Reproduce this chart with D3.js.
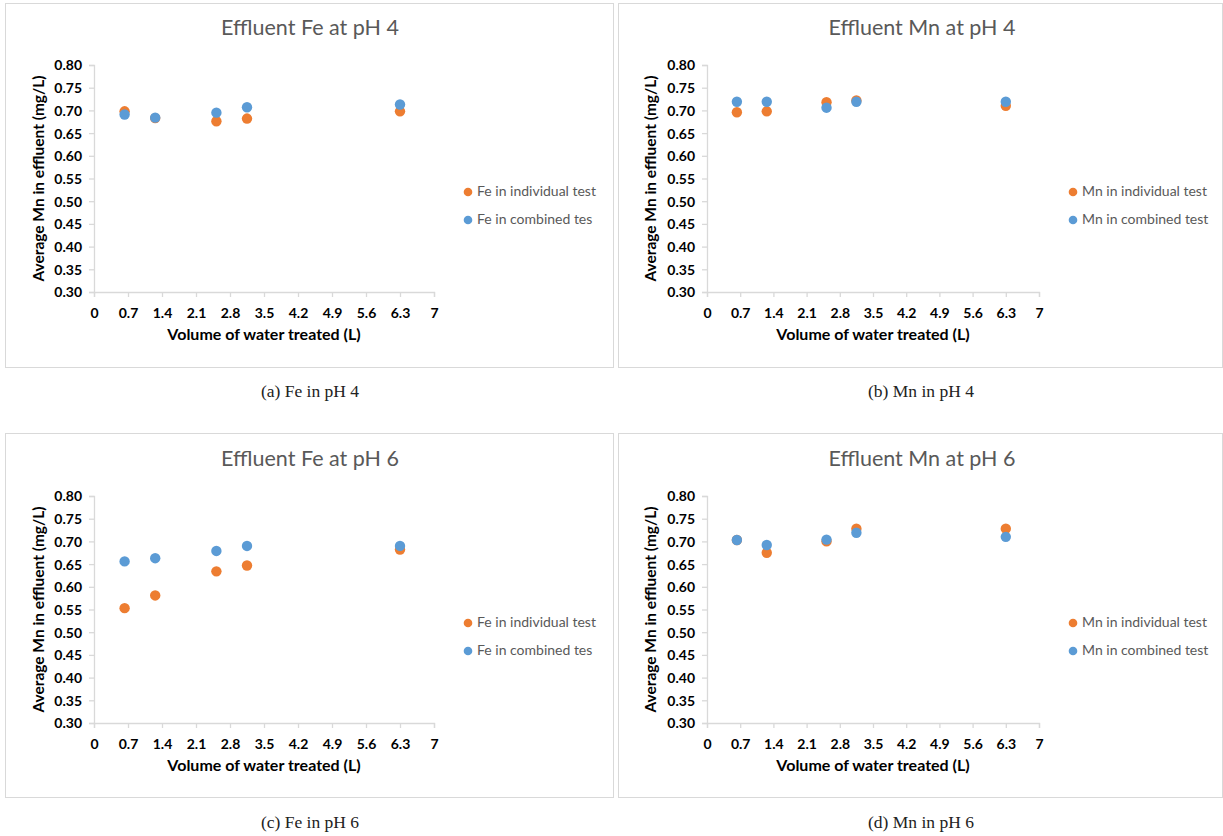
<!DOCTYPE html>
<html>
<head>
<meta charset="utf-8">
<script src="https://cdn.jsdelivr.net/npm/d3@7"></script>
<style>
  html, body { margin: 0; padding: 0; background: #ffffff; }
  svg { display: block; }
</style>
</head>
<body>
<svg id="chart" width="1223" height="836"></svg>
<script>
// Volume of water treated (L) at each sampling point
const volumes = [0.63, 1.26, 2.52, 3.15, 6.3];

// Effluent concentrations (mg/L)
const feIndividualPH4 = [0.698, 0.683, 0.676, 0.682, 0.698];
const feCombinedPH4   = [0.691, 0.684, 0.695, 0.707, 0.713];
const mnIndividualPH4 = [0.696, 0.698, 0.718, 0.722, 0.710];
const mnCombinedPH4   = [0.719, 0.719, 0.706, 0.719, 0.719];
const feIndividualPH6 = [0.553, 0.581, 0.634, 0.647, 0.682];
const feCombinedPH6   = [0.656, 0.663, 0.679, 0.690, 0.690];
const mnIndividualPH6 = [0.703, 0.675, 0.700, 0.728, 0.728];
const mnCombinedPH6   = [0.703, 0.692, 0.704, 0.719, 0.710];

// Axis ticks
const xTicks = [0, 0.7, 1.4, 2.1, 2.8, 3.5, 4.2, 4.9, 5.6, 6.3, 7];
const yTicks = [0.30, 0.35, 0.40, 0.45, 0.50, 0.55, 0.60, 0.65, 0.70, 0.75, 0.80];

// Panel titles, legend labels and captions
const titles = ["Effluent Fe at pH 4", "Effluent Mn at pH 4", "Effluent Fe at pH 6", "Effluent Mn at pH 6"];
const individualLabels = ["Fe in individual test", "Mn in individual test", "Fe in individual test", "Mn in individual test"];
const combinedLabels = ["Fe in combined tes", "Mn in combined test", "Fe in combined tes", "Mn in combined test"];
const captions = ["(a) Fe in pH 4", "(b) Mn in pH 4", "(c) Fe in pH 6", "(d) Mn in pH 6"];
const yAxisTitle = "Average Mn in effluent (mg/L)";
const xAxisTitle = "Volume of water treated (L)";

const individualSeries = [feIndividualPH4, mnIndividualPH4, feIndividualPH6, mnIndividualPH6];
const combinedSeries = [feCombinedPH4, mnCombinedPH4, feCombinedPH6, mnCombinedPH6];

const ORANGE = "#ED7D31";
const BLUE = "#5B9BD5";
const GRID = "#D9D9D9";
const TEXT_GREY = "#595959";
const SANS = "Lato, 'Open Sans', sans-serif";
const SERIF = "'Liberation Serif', 'DejaVu Serif', serif";

// Layout of the four panels
const panels = [
  { box: [5, 3, 613, 367],   plot: [94, 434, 65, 292],   titleX: 310, titleY: 30,  legendX: 468,  legendY: 192, yLabelX: 40,  xLabelY: 336, captionX: 310, captionY: 392 },
  { box: [618, 3, 1222, 367], plot: [707, 1039, 65, 292], titleX: 922, titleY: 30,  legendX: 1073, legendY: 192, yLabelX: 652, xLabelY: 336, captionX: 921, captionY: 392 },
  { box: [5, 433, 613, 797], plot: [94, 434, 496, 723],  titleX: 310, titleY: 461, legendX: 468,  legendY: 623, yLabelX: 40,  xLabelY: 767, captionX: 310, captionY: 823 },
  { box: [618, 433, 1222, 797], plot: [707, 1039, 496, 723], titleX: 922, titleY: 461, legendX: 1073, legendY: 623, yLabelX: 652, xLabelY: 767, captionX: 921, captionY: 823 }
];

const svg = d3.select("#chart");

panels.forEach((p, i) => {
  const g = svg.append("g");
  const [bx0, by0, bx1, by1] = p.box;
  const [px0, px1, py0, py1] = p.plot;

  // chart frame
  g.append("rect")
    .attr("x", bx0 + 0.5).attr("y", by0 + 0.5)
    .attr("width", bx1 - bx0).attr("height", by1 - by0)
    .attr("fill", "#fff").attr("stroke", GRID).attr("stroke-width", 1);

  const x = d3.scaleLinear().domain([0, 7]).range([px0, px1]);
  const y = d3.scaleLinear().domain([0.30, 0.80]).range([py1, py0]);

  // x axis
  const xAxis = g.append("g")
    .attr("transform", `translate(0,${py1})`)
    .call(d3.axisBottom(x).tickValues(xTicks).tickSize(5).tickPadding(8)
      .tickFormat(d => d3.format("")(+d.toFixed(1))));
  // y axis
  const yAxis = g.append("g")
    .attr("transform", `translate(${px0},0)`)
    .call(d3.axisLeft(y).tickValues(yTicks).tickSize(5).tickPadding(7)
      .tickFormat(d3.format(".2f")));

  [xAxis, yAxis].forEach(ax => {
    ax.select(".domain").attr("stroke", GRID).attr("stroke-width", 1.3);
    ax.selectAll(".tick line").attr("stroke", GRID).attr("stroke-width", 1.3);
    ax.selectAll(".tick text")
      .attr("fill", "#000")
      .style("font-family", SANS)
      .style("font-weight", "bold")
      .style("font-size", "14px");
  });
  xAxis.selectAll(".tick text").attr("dy", "0.9em");
  yAxis.selectAll(".tick text").attr("dy", "0.35em");

  // title
  g.append("text")
    .attr("x", p.titleX).attr("y", p.titleY)
    .attr("text-anchor", "middle").attr("dominant-baseline", "middle")
    .attr("fill", TEXT_GREY)
    .style("font-family", SANS).style("font-size", "21.5px")
    .text(titles[i]);

  // axis titles
  g.append("text")
    .attr("transform", `translate(${p.yLabelX},${(py0 + py1) / 2}) rotate(-90)`)
    .attr("text-anchor", "middle").attr("dominant-baseline", "middle")
    .attr("fill", "#000")
    .style("font-family", SANS).style("font-weight", "bold").style("font-size", "15.5px")
    .text(yAxisTitle);
  g.append("text")
    .attr("x", (px0 + px1) / 2).attr("y", p.xLabelY)
    .attr("text-anchor", "middle").attr("dominant-baseline", "middle")
    .attr("fill", "#000")
    .style("font-family", SANS).style("font-weight", "bold").style("font-size", "16px")
    .text(xAxisTitle);

  // data points: individual test first, combined test drawn on top
  const series = [
    { values: individualSeries[i], color: ORANGE },
    { values: combinedSeries[i], color: BLUE }
  ];
  series.forEach(s => {
    g.append("g").selectAll("circle")
      .data(volumes.map((v, k) => [v, s.values[k]]))
      .join("circle")
      .attr("cx", d => x(d[0]))
      .attr("cy", d => y(d[1]))
      .attr("r", 5.2)
      .attr("fill", s.color);
  });

  // legend
  const legendItems = [
    { label: individualLabels[i], color: ORANGE },
    { label: combinedLabels[i], color: BLUE }
  ];
  legendItems.forEach((item, k) => {
    const ly = p.legendY + k * 28;
    g.append("circle").attr("cx", p.legendX).attr("cy", ly).attr("r", 4.3).attr("fill", item.color);
    g.append("text")
      .attr("x", p.legendX + 9).attr("y", ly)
      .attr("dominant-baseline", "middle")
      .attr("fill", TEXT_GREY)
      .style("font-family", SANS).style("font-size", "14px")
      .text(item.label);
  });

  // caption below the chart
  svg.append("text")
    .attr("x", p.captionX).attr("y", p.captionY + 1)
    .attr("text-anchor", "middle").attr("dominant-baseline", "middle")
    .attr("fill", "#222")
    .style("font-family", SERIF).style("font-size", "17.5px")
    .text(captions[i]);
});
</script>
</body>
</html>
